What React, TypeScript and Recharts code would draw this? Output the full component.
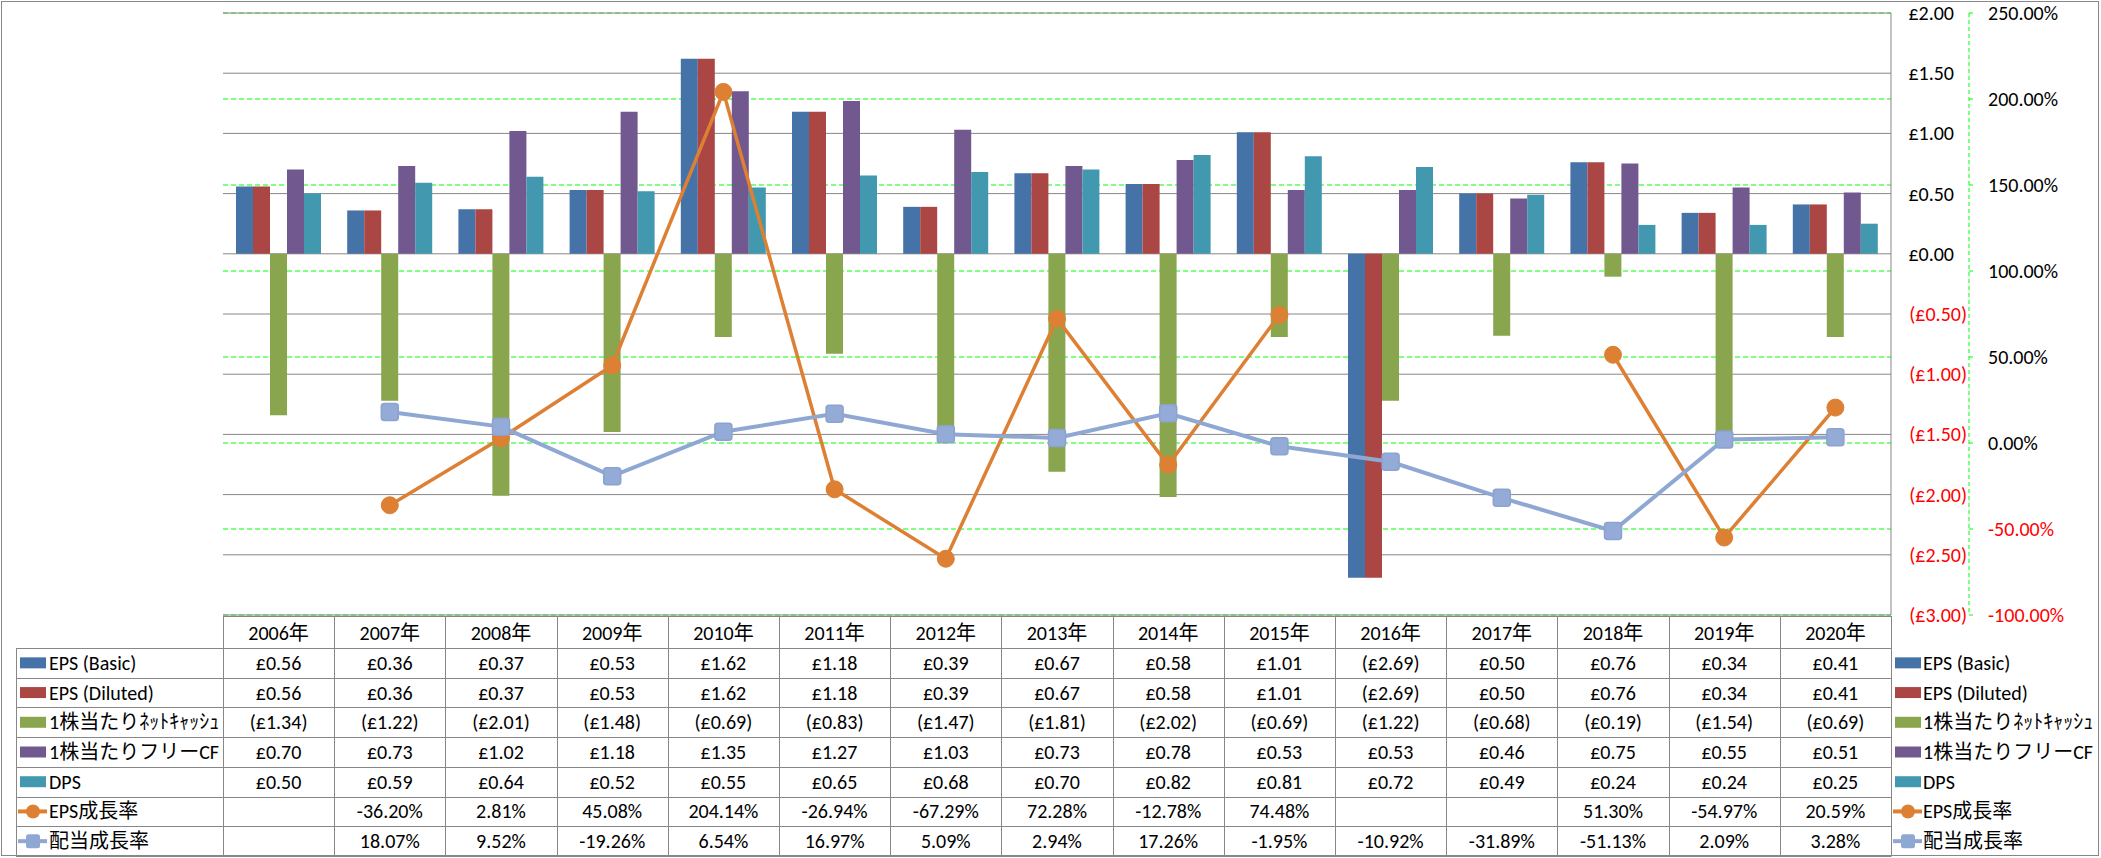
import React from 'react';
import { ComposedChart, Bar, Line, XAxis, YAxis, CartesianGrid } from 'recharts';

// 年度
const years = ['2006年', '2007年', '2008年', '2009年', '2010年', '2011年', '2012年', '2013年', '2014年', '2015年', '2016年', '2017年', '2018年', '2019年', '2020年'];

// 棒 (£)
const epsBasic = [0.56, 0.36, 0.37, 0.53, 1.62, 1.18, 0.39, 0.67, 0.58, 1.01, -2.69, 0.5, 0.76, 0.34, 0.41];
const epsDiluted = [0.56, 0.36, 0.37, 0.53, 1.62, 1.18, 0.39, 0.67, 0.58, 1.01, -2.69, 0.5, 0.76, 0.34, 0.41];
const netCash = [-1.34, -1.22, -2.01, -1.48, -0.69, -0.83, -1.47, -1.81, -2.02, -0.69, -1.22, -0.68, -0.19, -1.54, -0.69];
const freeCf = [0.7, 0.73, 1.02, 1.18, 1.35, 1.27, 1.03, 0.73, 0.78, 0.53, 0.53, 0.46, 0.75, 0.55, 0.51];
const dps = [0.5, 0.59, 0.64, 0.52, 0.55, 0.65, 0.68, 0.7, 0.82, 0.81, 0.72, 0.49, 0.24, 0.24, 0.25];

// 折れ線 (%)
const epsGrowth = [null, -36.2, 2.81, 45.08, 204.14, -26.94, -67.29, 72.28, -12.78, 74.48, null, null, 51.3, -54.97, 20.59];
const divGrowth = [null, 18.07, 9.52, -19.26, 6.54, 16.97, 5.09, 2.94, 17.26, -1.95, -10.92, -31.89, -51.13, 2.09, 3.28];

// 軸目盛
const moneyTicks = [-3, -2.5, -2, -1.5, -1, -0.5, 0, 0.5, 1, 1.5, 2];
const pctTicks = [-100, -50, 0, 50, 100, 150, 200, 250];

const W = 2101;
const H = 858;
const PLOT_L = 223;
const PLOT_R = 1891;
const PLOT_T = 13;
const PLOT_B = 615;
const AXIS1_W = 78;
const AXIS2_W = W - PLOT_R - AXIS1_W;
const FONT = "Carlito, 'Liberation Sans', 'Noto Sans CJK JP', sans-serif";
const FS = 20;
const GRID = '#878787';
const GREEN = '#00FF00';

type Kind = 'bar' | 'circle' | 'square';
interface Series {
  key: string;
  name: string;
  color: string;
  kind: Kind;
  values: (number | null)[];
}

const series: Series[] = [
  { key: 'epsBasic', name: 'EPS (Basic)', color: '#4572A7', kind: 'bar', values: epsBasic },
  { key: 'epsDiluted', name: 'EPS (Diluted)', color: '#AA4643', kind: 'bar', values: epsDiluted },
  { key: 'netCash', name: '1株当たりﾈｯﾄｷｬｯｼｭ', color: '#89A54E', kind: 'bar', values: netCash },
  { key: 'freeCf', name: '1株当たりフリーCF', color: '#71588F', kind: 'bar', values: freeCf },
  { key: 'dps', name: 'DPS', color: '#4198AF', kind: 'bar', values: dps },
  { key: 'epsGrowth', name: 'EPS成長率', color: '#DD8034', kind: 'circle', values: epsGrowth },
  { key: 'divGrowth', name: '配当成長率', color: '#8FA8D3', kind: 'square', values: divGrowth },
];

const data = years.map((y, i) => {
  const row: Record<string, string | number | null> = { year: y };
  series.forEach(s => { row[s.key] = s.values[i]; });
  return row;
});

function fmtMoney(v: number) {
  return v < 0 ? `(£${Math.abs(v).toFixed(2)})` : `£${v.toFixed(2)}`;
}
function fmtPct(v: number | null) {
  return v == null ? '' : `${v.toFixed(2)}%`;
}

function MoneyTick(props: any) {
  const { x, y, payload } = props;
  const v = payload.value as number;
  const neg = v < 0;
  return (
    <text x={x + (neg ? 76 : 63)} y={y} dy="0.35em" textAnchor="end" fill={neg ? '#FF0000' : '#000'} fontSize={FS} fontFamily={FONT}>
      {fmtMoney(v)}
    </text>
  );
}

function PctTick(props: any) {
  const { x, y, payload } = props;
  const v = payload.value as number;
  return (
    <text x={x} y={y} dy="0.35em" textAnchor="start" fill={v < 0 ? '#FF0000' : '#000'} fontSize={FS} fontFamily={FONT}>
      {`${v.toFixed(2)}%`}
    </text>
  );
}

function CircleDot(props: any) {
  const { cx, cy, value } = props;
  if (value == null || cx == null || cy == null) return <g />;
  return <circle cx={cx} cy={cy} r={8.5} fill="#DD8034" stroke="#DD8034" strokeWidth={1} />;
}

function SquareDot(props: any) {
  const { cx, cy, value } = props;
  if (value == null || cx == null || cy == null) return <g />;
  return <rect x={cx - 8.5} y={cy - 8.5} width={17} height={17} rx={3} fill="#93ABD6" stroke="#8BA3CE" strokeWidth={1.5} />;
}

function LegendKey({ s, x, cy }: { s: Series; x: number; cy: number }) {
  if (s.kind === 'bar') {
    return <rect x={x + 3} y={cy - 5.5} width={26} height={11} fill={s.color} />;
  }
  const mid = x + 16;
  return (
    <g>
      <line x1={x + 1} x2={x + 30} y1={cy} y2={cy} stroke={s.color} strokeWidth={4} />
      {s.kind === 'circle'
        ? <circle cx={mid} cy={cy} r={7} fill={s.color} />
        : <rect x={mid - 7} y={cy - 7} width={14} height={14} rx={2.5} fill={s.color} />}
    </g>
  );
}

function DataTable() {
  const catW = (PLOT_R - PLOT_L) / years.length;
  const tableL = 16;
  const headT = 616;
  const headB = 648;
  const bottom = 856;
  const rowH = (bottom - headB) / series.length;
  const lines: React.ReactNode[] = [];
  // 水平線
  lines.push(<line key="ht" x1={PLOT_L} x2={PLOT_R} y1={headT + 0.5} y2={headT + 0.5} stroke={GRID} />);
  for (let r = 0; r <= series.length; r++) {
    const y = Math.round(headB + r * rowH) + 0.5;
    lines.push(<line key={`h${r}`} x1={tableL} x2={PLOT_R} y1={y} y2={y} stroke={GRID} />);
  }
  // 垂直線
  lines.push(<line key="vl" x1={tableL + 0.5} x2={tableL + 0.5} y1={headB} y2={bottom} stroke={GRID} />);
  for (let c = 0; c <= years.length; c++) {
    const x = Math.round(PLOT_L + c * catW) + 0.5;
    lines.push(<line key={`v${c}`} x1={x} x2={x} y1={headT} y2={bottom + 0.5} stroke={GRID} />);
  }
  return (
    <g fontFamily={FONT} fontSize={FS}>
      {lines}
      {years.map((y, i) => (
        <text key={y} x={PLOT_L + (i + 0.5) * catW} y={(headT + headB) / 2 + 1} dy="0.35em" textAnchor="middle">{y}</text>
      ))}
      {series.map((s, r) => {
        const cy = headB + (r + 0.5) * rowH;
        return (
          <g key={s.key}>
            <LegendKey s={s} x={tableL + 1} cy={cy} />
            <text x={tableL + 33} y={cy} dy="0.35em">{s.name}</text>
            {s.values.map((v, i) => (
              <text key={i} x={PLOT_L + (i + 0.5) * catW} y={cy} dy="0.35em" textAnchor="middle">
                {s.kind === 'bar' ? fmtMoney(v as number) : fmtPct(v)}
              </text>
            ))}
            <LegendKey s={s} x={PLOT_R + 1} cy={cy} />
            <text x={PLOT_R + 32} y={cy} dy="0.35em">{s.name}</text>
          </g>
        );
      })}
    </g>
  );
}

export default function App() {
  return (
    <div style={{ position: 'absolute', left: 0, top: 0, width: W, height: H, background: '#fff', overflow: 'hidden' }}>
      <ComposedChart
        width={W}
        height={H}
        data={data}
        margin={{ top: PLOT_T, right: 0, bottom: H - PLOT_B, left: PLOT_L }}
        barGap={0}
        barCategoryGap={13}
      >
        <CartesianGrid yAxisId="s" vertical={false} stroke={GREEN} strokeDasharray="5 3" strokeWidth={1} />
        <CartesianGrid yAxisId="p" vertical={false} stroke={GRID} strokeWidth={1} />
        <XAxis dataKey="year" hide />
        <YAxis
          yAxisId="p"
          orientation="right"
          width={AXIS1_W}
          domain={[-3, 2]}
          ticks={moneyTicks}
          interval={0}
          stroke={GRID}
          tickLine={false}
          tickSize={0}
          tickMargin={0}
          tick={<MoneyTick />}
        />
        <YAxis
          yAxisId="s"
          orientation="right"
          width={AXIS2_W}
          domain={[-100, 250]}
          ticks={pctTicks}
          interval={0}
          stroke={GREEN}
          axisLine={{ stroke: GREEN, strokeDasharray: '4 3' }}
          tickLine={{ stroke: GREEN }}
          tickSize={4}
          tickMargin={15}
          tick={<PctTick />}
        />
        {series.filter(s => s.kind === 'bar').map(s => (
          <Bar key={s.key} yAxisId="p" dataKey={s.key} name={s.name} fill={s.color} isAnimationActive={false} />
        ))}
        <Line
          yAxisId="s"
          type="linear"
          dataKey="epsGrowth"
          name="EPS成長率"
          stroke="#DD8034"
          strokeWidth={3.5}
          dot={<CircleDot />}
          activeDot={false}
          connectNulls={false}
          isAnimationActive={false}
        />
        <Line
          yAxisId="s"
          type="linear"
          dataKey="divGrowth"
          name="配当成長率"
          stroke="#8FA8D3"
          strokeWidth={4}
          dot={<SquareDot />}
          activeDot={false}
          connectNulls={false}
          isAnimationActive={false}
        />
      </ComposedChart>
      <svg width={W} height={H} style={{ position: 'absolute', left: 0, top: 0, pointerEvents: 'none' }}>
        <rect x={1.5} y={1.5} width={W - 4} height={H - 4} fill="none" stroke={GRID} />
        <DataTable />
      </svg>
    </div>
  );
}
